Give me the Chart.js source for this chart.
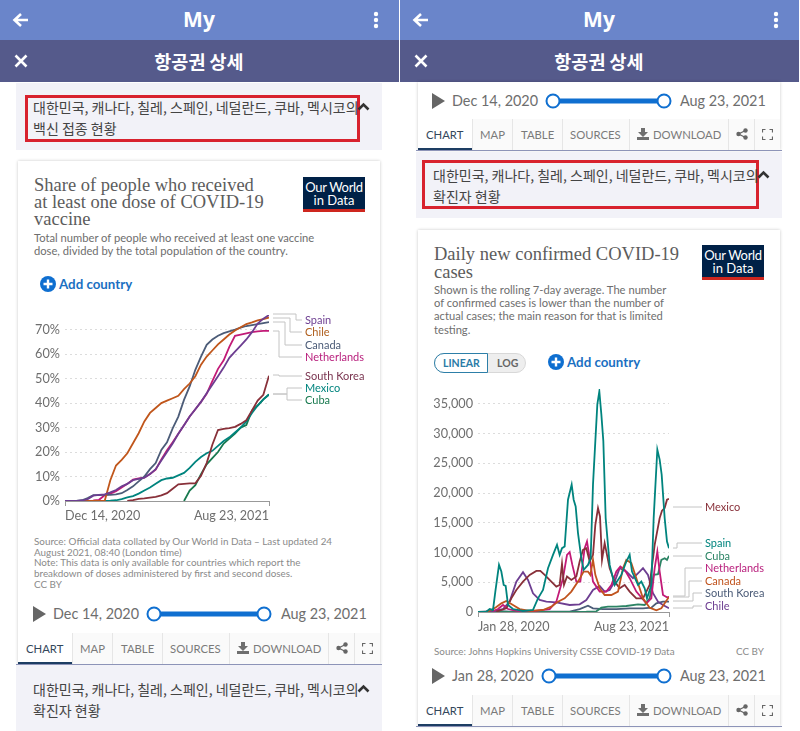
<!DOCTYPE html>
<html>
<head>
<meta charset="utf-8">
<script src="https://cdn.jsdelivr.net/npm/chart.js@4/dist/chart.umd.min.js"></script>
<style>
html, body { margin: 0; padding: 0; background: #fff; }
#page { position: relative; width: 800px; height: 731px; overflow: hidden; font-family: Lato, sans-serif; }
#page div, #page svg, #page canvas { position: absolute; }
.t { white-space: nowrap; transform: translateY(-50%); line-height: 1; }
.ko { font-family: "Noto Sans CJK KR", sans-serif; font-size: 14px; color: #444; }
.serif { font-family: "Liberation Serif", serif; font-size: 18.5px; color: #5c5c5c; }
.sub { font-size: 11.2px; color: #6e6e6e; }
.src { font-size: 9.85px; color: #8a8a8a; }
.time { font-size: 14.4px; color: #6e6e6e; }
.tab { font-size: 11.3px; color: #7a7a7a; }
.card { background: #fff; box-shadow: 0 0 3px rgba(0,0,0,0.22); }
</style>
</head>
<body>
<div id="page"></div>
<script>
// vaccine chart, one reading per week
const vaccineDays = [0,7,14,21,28,35,42,49,56,63,70,77,84,91,98,105,112,119,126,133,140,147,154,161,168,175,182,189,196,203,210,217,224,231,238,245,252];
const vaccineSpain = [0,0,0,0.2,0.8,2.2,2.5,2.7,3.5,4.5,6,7,8.5,9,9.5,11,13,16.5,20,23.5,27.5,31,34.5,37.5,40.5,44,47.5,51,54.5,58.5,61,63.5,66,69,72.5,74.5,76];
const vaccineChile = [0,0,0,0,0,0,0,0,8.5,14.5,16.8,19.5,23.6,27.7,32.5,36,38,40,41,42,43,45.7,48,51,55.7,59,61.5,64,66,68,69.7,71,72.3,73,73.8,74.3,75];
const vaccineCanada = [0,0,0,0.3,1.2,2.4,2.4,2.5,2.5,2.7,3.2,4.5,6,8,10,13,15.5,20.9,24,29.7,34.5,41.3,46.8,53.6,59,63.8,66,67.5,68.6,69.3,70,70.8,71.5,71.9,72.3,72.7,73.1];
const vaccineNetherlands = [null,null,null,null,null,0.2,0.5,2.3,3,4,5.5,7,8.7,9.2,9.5,11,12.8,17,20.7,24,27.5,31,34.5,37.5,40.5,43.8,49,54,57.5,63,67.5,68,68.5,69,69.3,69.5,69.5];
const vaccineKorea = [null,null,null,null,null,null,null,null,null,null,null,0,0.4,0.9,1.1,1.4,1.7,2.3,3.2,5,6.8,7,7.2,7.2,10.3,15.5,23,29,29.5,29.8,30.3,31.5,33,37,41,43.4,51.2];
const vaccineMexico = [null,null,null,null,null,null,0,0,0.1,0.3,0.8,1.5,2,3,4.3,5.5,7,8.5,9.2,9.5,10.5,11.5,13.5,16,18,19.5,20.5,22.5,24.5,26,28,30,32.5,36,39,41.5,43.5];
const vaccineCuba = [null,null,null,null,null,null,null,null,null,null,null,null,null,null,null,null,null,null,null,null,null,0,4.3,6.5,11,15,17.5,20,23.5,25.5,27.5,30,31,37,39,41.5,43.5];
const vaccineYTicks = [0,10,20,30,40,50,60,70];
const vaccineXLabels = ['Dec 14, 2020','Aug 23, 2021'];

// daily cases chart, days counted from Jan 28, 2020
const spainDays = [0,25,35,45,52,63,70,77,83,90,105,135,165,180,195,210,225,237,245,252,260,270,281,287,293,300,310,317,330,338,345,352,358,364,370,376,383,395,410,430,445,455,462,480,490,500,507,520,527,538,545,551,560,567,573];
const spainCases = [0,50,500,340,3430,7920,6800,4550,4380,1180,500,170,340,2300,3710,7360,9610,11300,9610,10730,11020,18880,21420,18880,17760,13270,9050,7080,7920,9050,21420,28730,34900,37100,33270,28730,15790,7920,4550,6240,8490,9610,6800,4550,5110,3990,2300,4550,15790,27320,25630,23100,15790,11860,10730];
const mexicoDays = [55,85,100,115,135,155,175,187,200,220,235,245,252,258,267,280,295,305,315,325,335,345,352,360,366,372,380,387,395,410,425,440,455,475,495,515,530,545,552,560,567,573];
const mexicoCases = [60,620,2300,3710,5110,6240,6910,6910,6240,5110,4270,4550,8090,4550,5960,5390,5960,8490,10450,10730,8490,9610,14670,17480,16070,8770,11580,9610,7360,5110,3990,4550,3430,2300,2300,4550,11300,15790,17030,17480,18880,19050];
const cubaDays = [0,325,355,370,390,415,445,480,500,515,527,540,550,560,567,573];
const cubaCases = [0,50,110,730,900,900,1010,1290,1180,2300,6240,6350,8770,9050,8770,9440];
const netherlandsDays = [45,60,75,90,115,155,185,215,235,255,267,275,283,295,307,320,327,335,345,365,385,400,415,427,440,455,475,505,520,530,538,545,555,567,573];
const netherlandsCases = [100,500,1180,500,200,60,280,500,1740,5680,9610,10060,7920,5110,5110,10730,11860,9050,5110,3430,3430,4550,6800,7640,7080,5680,3430,1460,2300,7360,10170,6800,2860,2470,2530];
const canadaDays = [25,40,55,70,85,105,125,155,195,220,240,260,280,300,317,330,337,345,352,365,380,400,420,435,445,460,475,495,515,535,550,563,573];
const canadaCases = [60,300,840,1460,1850,1180,500,170,340,900,1740,2300,3430,5110,6800,6800,6240,8770,6240,3990,2860,2860,3430,7360,8770,8210,5680,2300,730,280,620,1740,2530];
const koreaDays = [0,55,95,205,275,305,330,345,375,415,455,495,520,535,555,573];
const koreaCases = [0,170,60,60,60,500,1070,620,500,500,620,620,730,1460,1740,1740];
const chileDays = [35,75,95,115,135,150,165,185,205,235,275,305,325,345,365,380,395,410,425,445,465,485,495,510,525,540,555,573];
const chileCases = [60,500,1740,5110,6690,5390,3150,2020,1740,1630,1180,1290,2020,3710,4380,3430,3710,5110,7360,6800,5680,6800,7360,6240,3150,1740,1180,620];
const casesYTicks = [0,5000,10000,15000,20000,25000,30000,35000];
const casesXLabels = ['Jan 28, 2020','Aug 23, 2021'];

const page = document.getElementById('page');

function text(x, y, str, cls, style) {
    const el = document.createElement('div');
    el.className = 't ' + (cls || '');
    el.textContent = str;
    el.style.left = x + 'px';
    el.style.top = y + 'px';
    if (style) el.style.cssText += style;
    page.appendChild(el);
    return el;
}

function box(x, y, w, h, style, cls) {
    const el = document.createElement('div');
    if (cls) el.className = cls;
    el.style.cssText = `left:${x}px;top:${y}px;width:${w}px;height:${h}px;${style || ''}`;
    page.appendChild(el);
    return el;
}

function svg(x, y, w, h, inner) {
    page.insertAdjacentHTML('beforeend',
        `<svg style="left:${x}px;top:${y}px" width="${w}" height="${h}" viewBox="0 0 ${w} ${h}">${inner}</svg>`);
}

function header(ox) {
    box(ox, 0, 399, 40, 'background:#6a85ca');
    box(ox, 40, 399, 42, 'background:#555a8b');
    text(ox + 199, 19, 'My', '', 'transform:translate(-50%,-50%);color:#fff;font:700 21px "Noto Sans",sans-serif');
    text(ox + 199, 61, '항공권 상세', '', 'transform:translate(-50%,-50%);color:#fff;font:700 18.5px "Noto Sans CJK KR",sans-serif');
    svg(ox + 12, 12, 18, 16, '<path d="M9 2L2.5 8L9 14M3 8H16" fill="none" stroke="#fff" stroke-width="2.6"/>');
    svg(ox + 14, 54, 14, 14, '<path d="M1.5 1.5L12.5 12.5M12.5 1.5L1.5 12.5" stroke="#fff" stroke-width="2.6"/>');
    svg(ox + 372, 11, 8, 18, '<circle cx="4" cy="3" r="2.2" fill="#fff"/><circle cx="4" cy="9" r="2.2" fill="#fff"/><circle cx="4" cy="15" r="2.2" fill="#fff"/>');
}

function section(ox, y, h, line2, rect, textTop) {
    box(ox + 16, y, 366, h, 'background:#f2f2f8');
    if (rect) box(rect[0], rect[1], rect[2], rect[3], 'border:3px solid #d8222e;box-sizing:border-box');
    text(ox + 33, textTop, '대한민국, 캐나다, 칠레, 스페인, 네덜란드, 쿠바, 멕시코의', 'ko');
    text(ox + 33, textTop + 20.5, line2, 'ko');
    svg(ox + 357, textTop - 5, 13, 9, '<path d="M1.5 7.5L6.5 2.5L11.5 7.5" fill="none" stroke="#333" stroke-width="2.6"/>');
}

function logo(x, y) {
    box(x, y, 62, 35, 'background:#002147;border-bottom:3px solid #ce261e;box-sizing:border-box');
    text(x + 31, y + 10, 'Our World', '', 'transform:translate(-50%,-50%);color:#fff;font-size:13px;letter-spacing:-0.3px');
    text(x + 31, y + 23, 'in Data', '', 'transform:translate(-50%,-50%);color:#fff;font-size:13px');
}

function addCountry(x, y) {
    svg(x, y - 8, 16, 16, '<circle cx="8" cy="8" r="8" fill="#0f6fd0"/><path d="M8 3.5V12.5M3.5 8H12.5" stroke="#fff" stroke-width="2.4"/>');
    text(x + 19, y + 1, 'Add country', '', 'color:#1a70c2;font-size:13.3px;font-weight:700');
}

function timeline(ox, y, from, x1, x2) {
    svg(ox + 33, y - 8, 14, 16, '<path d="M0 0L13 8L0 16Z" fill="#666"/>');
    text(ox + 53, y, from, 'time');
    svg(x1 - 8, y - 9, x2 - x1 + 16, 18,
        `<path d="M8 9H${x2 - x1 + 8}" stroke="#0f6fd0" stroke-width="5"/>` +
        `<circle cx="8" cy="9" r="6.5" fill="#fff" stroke="#0f6fd0" stroke-width="2"/>` +
        `<circle cx="${x2 - x1 + 8}" cy="9" r="6.5" fill="#fff" stroke="#0f6fd0" stroke-width="2"/>`);
    text(ox + 281, y, 'Aug 23, 2021', 'time');
}

function tabs(ox, y) {
    const seps = [72, 112, 162, 229, 328, 354];
    box(ox + 72, y, 308, 31, 'background:#fafafa');
    seps.forEach(s => box(ox + s, y, 1, 31, 'background:#e6e6e6'));
    box(ox + 18, y + 29, 54, 2, 'background:#1d3d63');
    box(ox + 16, y + 31, 366, 1, 'background:#8d94b8');
    text(ox + 26, y + 15.5, 'CHART', 'tab', 'color:#33475b');
    text(ox + 80, y + 15.5, 'MAP', 'tab');
    text(ox + 121, y + 15.5, 'TABLE', 'tab');
    text(ox + 170, y + 15.5, 'SOURCES', 'tab');
    text(ox + 253, y + 15.5, 'DOWNLOAD', 'tab');
    svg(ox + 237, y + 9, 12, 12, '<path d="M4 0H8V4H11L6 9L1 4H4ZM0 9H12V12H0Z" fill="#6f6f6f"/>');
    svg(ox + 336, y + 9, 12, 12, '<path d="M9.5 2.5L2.5 6L9.5 9.5" fill="none" stroke="#666" stroke-width="1.3"/><circle cx="9.5" cy="2.5" r="2.2" fill="#666"/><circle cx="2.5" cy="6" r="2.2" fill="#666"/><circle cx="9.5" cy="9.5" r="2.2" fill="#666"/>');
    svg(ox + 362, y + 10, 11, 11, '<path d="M0.5 3.5V0.5H3.5M7.5 0.5H10.5V3.5M10.5 7.5V10.5H7.5M3.5 10.5H0.5V7.5" fill="none" stroke="#666" stroke-width="1.2"/>');
}

// left panel
header(0);
section(0, 83, 67, '백신 접종 현황', [25, 95, 335, 47], 107);
box(18, 161, 362, 503, '', 'card');
['Share of people who received', 'at least one dose of COVID-19', 'vaccine'].forEach((s, i) => text(34, 185 + i * 17, s, 'serif'));
logo(303, 177);
text(34, 238, 'Total number of people who received at least one vaccine', 'sub');
text(34, 251, 'dose, divided by the total population of the country.', 'sub');
addCountry(40, 284);
['Source: Official data collated by Our World in Data – Last updated 24', 'August 2021, 08:40 (London time)',
 'Note: This data is only available for countries which report the', 'breakdown of doses administered by first and second doses.', 'CC BY']
    .forEach((s, i) => text(34, 542 + i * 10.7, s, 'src'));
timeline(0, 614, 'Dec 14, 2020', 154, 264);
tabs(0, 633);
section(0, 665, 66, '확진자 현황', null, 689);

// right panel
header(400);
box(418, 82, 362, 68, '', 'card');
timeline(399, 101, 'Dec 14, 2020', 553, 664);
tabs(400, 119);
section(400, 152, 66, '확진자 현황', [422, 160, 337, 49], 175);
box(418, 230, 362, 496, '', 'card');
['Daily new confirmed COVID-19', 'cases'].forEach((s, i) => text(434, 254 + i * 18, s, 'serif'));
logo(702, 245);
['Shown is the rolling 7-day average. The number', 'of confirmed cases is lower than the number of',
 'actual cases; the main reason for that is limited', 'testing.'].forEach((s, i) => text(434, 290 + i * 13.2, s, 'sub'));
box(434, 353, 92, 20, 'border:1px solid #d8d8d8;border-radius:10px;background:#eee;box-sizing:border-box');
box(434, 353, 54, 20, 'border:1px solid #2d7fa8;border-radius:10px 0 0 10px;background:#fff;box-sizing:border-box');
text(443, 363, 'LINEAR', '', 'color:#2a7ba6;font-size:10.5px;font-weight:700');
text(497, 363, 'LOG', '', 'color:#666;font-size:10.5px;font-weight:700');
addCountry(548, 362);
text(434, 652, 'Source: Johns Hopkins University CSSE COVID-19 Data', 'src');
text(736, 652, 'CC BY', 'src');
timeline(399, 676, 'Jan 28, 2020', 549, 664);
tabs(400, 695);

function makeCanvas(x, y, w, h) {
    const c = document.createElement('canvas');
    c.style.cssText = `left:${x}px;top:${y}px;width:${w}px;height:${h}px`;
    c.width = w;
    c.height = h;
    page.appendChild(c);
    return c;
}

function pairs(days, values) {
    return days.map((d, i) => ({ x: d, y: values[i] }));
}

// labels at the right end of the lines, in canvas pixels: [name, color, start y, elbow x, label y]
const endLabels = {
    id: 'endLabels',
    afterDraw(chart, args, opts) {
        const ctx = chart.ctx;
        ctx.save();
        ctx.font = '11px Lato';
        ctx.textBaseline = 'middle';
        opts.items.forEach(it => {
            const right = chart.chartArea.right;
            ctx.strokeStyle = '#c4c4c4';
            ctx.lineWidth = 1;
            ctx.beginPath();
            ctx.moveTo(right + 4, it[2]);
            ctx.lineTo(it[3], it[2]);
            ctx.lineTo(it[3], it[4]);
            ctx.lineTo(opts.labelX - 3, it[4]);
            ctx.stroke();
            ctx.fillStyle = it[1];
            ctx.fillText(it[0], opts.labelX, it[4]);
        });
        ctx.restore();
    }
};

function lineChart(canvas, cfg) {
    return new Chart(canvas, {
        type: 'line',
        plugins: [endLabels],
        data: { datasets: cfg.datasets.map(s => ({
            label: s[0],
            data: s[2],
            borderColor: s[1],
            borderWidth: 1.8,
            pointRadius: 0,
            tension: 0
        })) },
        options: {
            responsive: false,
            animation: false,
            layout: { padding: cfg.padding },
            plugins: {
                legend: { display: false },
                tooltip: { enabled: false },
                endLabels: { items: cfg.labels, labelX: cfg.labelX }
            },
            scales: {
                x: {
                    type: 'linear',
                    min: 0,
                    max: cfg.xMax,
                    afterBuildTicks: a => { a.ticks = [{ value: 0 }, { value: cfg.xMax }]; },
                    afterFit: a => { a.height = cfg.xHeight; a.paddingLeft = 0; a.paddingRight = 0; },
                    ticks: {
                        autoSkip: false,
                        maxRotation: 0,
                        align: 'inner',
                        color: '#6e6e6e',
                        font: { family: 'Lato', size: 12.6 },
                        padding: 2,
                        callback: (v) => cfg.xLabels[v === 0 ? 0 : 1]
                    },
                    grid: { drawOnChartArea: false, color: '#999', tickLength: 5 },
                    border: { color: '#999' }
                },
                y: {
                    min: 0,
                    max: cfg.yMax,
                    afterBuildTicks: a => { a.ticks = cfg.yTicks.map(v => ({ value: v })); },
                    afterFit: a => { a.width = cfg.yWidth; a.paddingTop = 0; a.paddingBottom = 0; },
                    ticks: {
                        color: '#6e6e6e',
                        font: { family: 'Lato', size: 12.7 },
                        padding: 5,
                        callback: cfg.yFormat
                    },
                    grid: {
                        drawTicks: false,
                        color: c => c.tick.value === 0 ? 'transparent' : '#dcdcdc'
                    },
                    border: { display: false, dash: [2, 3] }
                }
            }
        }
    });
}

lineChart(makeCanvas(20, 305, 360, 225), {
    padding: { top: 10, right: 111, left: 0, bottom: 0 },
    xMax: 252,
    yMax: 76,
    xHeight: 29,
    yWidth: 45,
    yTicks: vaccineYTicks,
    yFormat: v => v + '%',
    xLabels: vaccineXLabels,
    labelX: 285,
    datasets: [
        ['Spain', '#6d3e91', pairs(vaccineDays, vaccineSpain)],
        ['Chile', '#c0561b', pairs(vaccineDays, vaccineChile)],
        ['Canada', '#4c5c78', pairs(vaccineDays, vaccineCanada)],
        ['Netherlands', '#c21a77', pairs(vaccineDays, vaccineNetherlands)],
        ['South Korea', '#883039', pairs(vaccineDays, vaccineKorea)],
        ['Mexico', '#00847e', pairs(vaccineDays, vaccineMexico)],
        ['Cuba', '#18794f', pairs(vaccineDays, vaccineCuba)]
    ],
    labels: [
        ['Spain', '#6d3e91', 9, 276, 15],
        ['Chile', '#b0601f', 13, 270, 27],
        ['Canada', '#4c5c78', 17, 265, 40],
        ['Netherlands', '#b81e7c', 26, 259, 52],
        ['South Korea', '#7a3550', 70, 259, 71],
        ['Mexico', '#00847e', 89, 267, 83],
        ['Cuba', '#18794f', 89, 267, 95]
    ]
});

lineChart(makeCanvas(425, 380, 350, 260), {
    padding: { top: 9, right: 106, left: 0, bottom: 0 },
    xMax: 573,
    yMax: 37500,
    xHeight: 28,
    yWidth: 53,
    yTicks: casesYTicks,
    yFormat: v => v.toLocaleString('en-US'),
    xLabels: casesXLabels,
    labelX: 280,
    datasets: [
        ['Spain', '#00847e', pairs(spainDays, spainCases)],
        ['Canada', '#c0541e', pairs(canadaDays, canadaCases)],
        ['Mexico', '#883039', pairs(mexicoDays, mexicoCases)],
        ['Netherlands', '#c21a77', pairs(netherlandsDays, netherlandsCases)],
        ['Chile', '#6d3e91', pairs(chileDays, chileCases)],
        ['Cuba', '#2c8465', pairs(cubaDays, cubaCases)],
        ['South Korea', '#4c5c78', pairs(koreaDays, koreaCases)]
    ],
    labels: [
        ['Mexico', '#883039', 127, 258, 127],
        ['Spain', '#00847e', 168, 252, 163],
        ['Cuba', '#2c8465', 176, 258, 176],
        ['Netherlands', '#b81e7c', 216, 260, 188],
        ['Canada', '#c0541e', 217, 264, 201],
        ['South Korea', '#4c5c78', 221, 268, 213],
        ['Chile', '#6d3e91', 228, 268, 226]
    ]
});
</script>
</body>
</html>
